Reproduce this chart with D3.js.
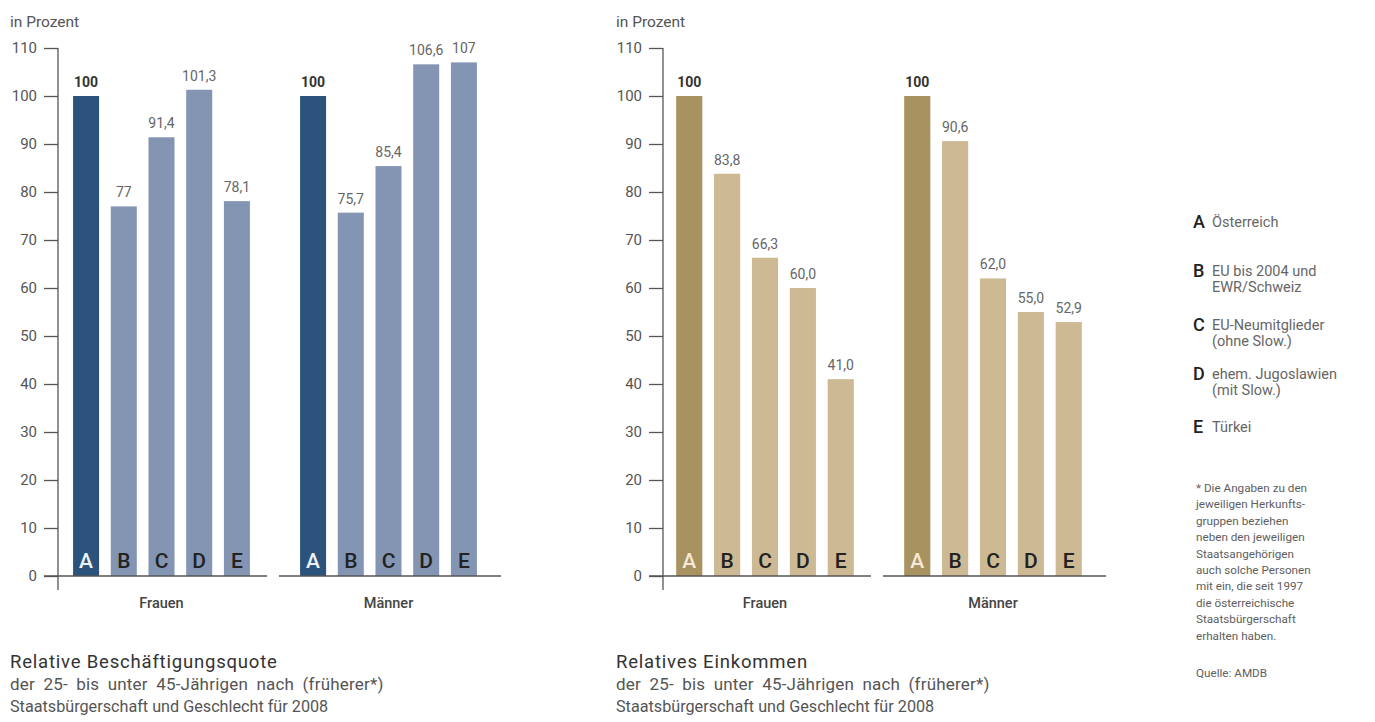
<!DOCTYPE html>
<html><head><meta charset="utf-8">
<script src="https://cdn.jsdelivr.net/npm/d3@7"></script>
<style>
html,body{margin:0;padding:0;background:#fff;}
svg{display:block;font-family:Roboto, "Noto Sans", sans-serif;}
</style></head>
<body>
<svg id="c" width="1375" height="722"></svg>
<script>
// ---- data ----
const categories = ["A","B","C","D","E"];
const groups = ["Frauen","Männer"];
const yTicks = [0,10,20,30,40,50,60,70,80,90,100,110];
const beschFrauen = [100, 77, 91.4, 101.3, 78.1];
const beschMaenner = [100, 75.7, 85.4, 106.6, 107];
const einkFrauen = [100, 83.8, 66.3, 60.0, 41.0];
const einkMaenner = [100, 90.6, 62.0, 55.0, 52.9];
const legendItems = [
  ["A", ["Österreich"]],
  ["B", ["EU bis 2004 und", "EWR/Schweiz"]],
  ["C", ["EU-Neumitglieder", "(ohne Slow.)"]],
  ["D", ["ehem. Jugoslawien", "(mit Slow.)"]],
  ["E", ["Türkei"]]
];
const footnote = ["*   Die Angaben zu den","jeweiligen Herkunfts-","gruppen beziehen","neben den jeweiligen","Staatsangehörigen","auch solche Personen","mit ein, die seit 1997","die österreichische","Staatsbürgerschaft","erhalten haben."];
const source = "Quelle: AMDB";
const captionLeft = ["Relative Beschäftigungsquote","der 25- bis unter 45-Jährigen nach (früherer*)","Staatsbürgerschaft und Geschlecht für 2008"];
const captionRight = ["Relatives Einkommen","der 25- bis unter 45-Jährigen nach (früherer*)","Staatsbürgerschaft und Geschlecht für 2008"];

const svg = d3.select("#c");
const y = d3.scaleLinear().domain([0,110]).range([576,48]);

function chart(opts){
  const g = svg.append("g");
  const xG = d3.scaleBand().domain(groups).range(opts.groupRange);
  const xC = d3.scaleBand().domain(categories).range([0, xG.bandwidth()]).paddingInner(0.31).paddingOuter(0.665);
  // y axis
  const ax = g.append("g").attr("transform",`translate(${opts.axisX},0)`)
    .call(d3.axisLeft(y).tickValues(yTicks).tickSize(14).tickPadding(7).tickFormat(d3.format("d")));
  ax.select(".domain").remove();
  ax.selectAll(".tick line").attr("stroke","#555").attr("stroke-width",1.3);
  ax.selectAll(".tick text").attr("fill","#555").style("font-size","15px").style("font-family","Roboto, sans-serif");
  g.append("line").attr("x1",opts.axisX).attr("x2",opts.axisX).attr("y1",y(110)).attr("y2",y(0)+14)
    .attr("stroke","#555").attr("stroke-width",1.3);
  g.append("text").attr("x",opts.titleX).attr("y",27).text("in Prozent")
    .attr("fill","#555").style("font-size","15.5px");
  const series = [opts.frauen, opts.maenner];
  groups.forEach((grp, gi) => {
    const x0 = xG(grp);
    const gg = g.append("g").attr("transform",`translate(${x0},0)`);
    const vals = series[gi];
    const data = categories.map((c,i)=>({c, v: vals[i]}));
    gg.selectAll("rect").data(data).join("rect")
      .attr("x", d=>xC(d.c)).attr("width", xC.bandwidth())
      .attr("y", d=>y(d.v)).attr("height", d=>y(0)-y(d.v))
      .attr("fill", d=> d.c==="A" ? opts.dark : opts.light);
    gg.selectAll("text.val").data(data).join("text").attr("class","val")
      .attr("x", d=>xC(d.c)+xC.bandwidth()/2).attr("y", d=>y(d.v)-9)
      .attr("text-anchor","middle")
      .text(d=>opts.fmt(d.v))
      .attr("fill", d=> d.c==="A" ? "#333" : "#666")
      .style("font-weight", d=> d.c==="A" ? "700" : "400")
      .style("font-size","14px");
    gg.selectAll("text.let").data(data).join("text").attr("class","let")
      .attr("x", d=>xC(d.c)+xC.bandwidth()/2).attr("y", y(0)-8)
      .attr("text-anchor","middle").text(d=>d.c)
      .attr("fill", d=> d.c==="A" ? opts.letA : "#222")
      .style("font-size","21px").style("font-weight","500");
    // baseline
    const bx1 = gi===0 ? opts.axisX-14 - x0 : 4;
    const bx2 = gi===0 ? xG.bandwidth()-8 : xG.bandwidth()-1;
    gg.append("line").attr("x1",bx1).attr("x2",bx2).attr("y1",y(0)).attr("y2",y(0))
      .attr("stroke","#555").attr("stroke-width",1.3);
    gg.append("text").attr("x", xG.bandwidth()/2).attr("y", 608).attr("text-anchor","middle")
      .text(grp).attr("fill","#444").style("font-size","14.5px").style("font-weight","500");
  });
  const cap = g.append("g");
  const capSize = ["18.5px","17px","16.2px"];
  const capLS = ["0.8px","0.2px","0px"];
  const capWS = ["0px","4px","0px"];
  opts.caption.forEach((t,i)=>{
    cap.append("text").attr("x",opts.titleX).attr("y",668+i*22).text(t)
      .attr("fill", i===0 ? "#333" : "#555")
      .style("font-size", capSize[i])
      .style("letter-spacing", capLS[i])
      .style("word-spacing", capWS[i]);
  });
}

const fmtLeft = v => String(v).replace(".", ",");
const fmtRight = v => v===100 ? "100" : v.toFixed(1).replace(".", ",");

chart({groupRange:[48,502], axisX:58, titleX:10, frauen:beschFrauen, maenner:beschMaenner,
  dark:"#2b537b", light:"#8495b3", letA:"#eef3f8", fmt:fmtLeft, caption:captionLeft});
chart({groupRange:[651,1107], axisX:663, titleX:616, frauen:einkFrauen, maenner:einkMaenner,
  dark:"#a8925f", light:"#cdb993", letA:"#f7e9d6", fmt:fmtRight, caption:captionRight});

// legend
const lg = svg.append("g");
const legendY = [228, 277, 331, 380, 433];
legendItems.forEach((it,i)=>{
  lg.append("text").attr("x",1193).attr("y",legendY[i]).text(it[0])
    .attr("fill","#222").style("font-size","18px").style("font-weight","500");
  it[1].forEach((t,j)=>{
    lg.append("text").attr("x",1212).attr("y",legendY[i]-1+j*16).text(t)
      .attr("fill","#666").style("font-size","14.5px");
  });
});
footnote.forEach((t,i)=>{
  lg.append("text").attr("x",1196).attr("y",492+i*16.4).text(t)
    .attr("fill","#5e5e5e").style("font-size","11.7px");
});
lg.append("text").attr("x",1196).attr("y",677).text(source).attr("fill","#5e5e5e").style("font-size","11.7px");
</script>
</body></html>
